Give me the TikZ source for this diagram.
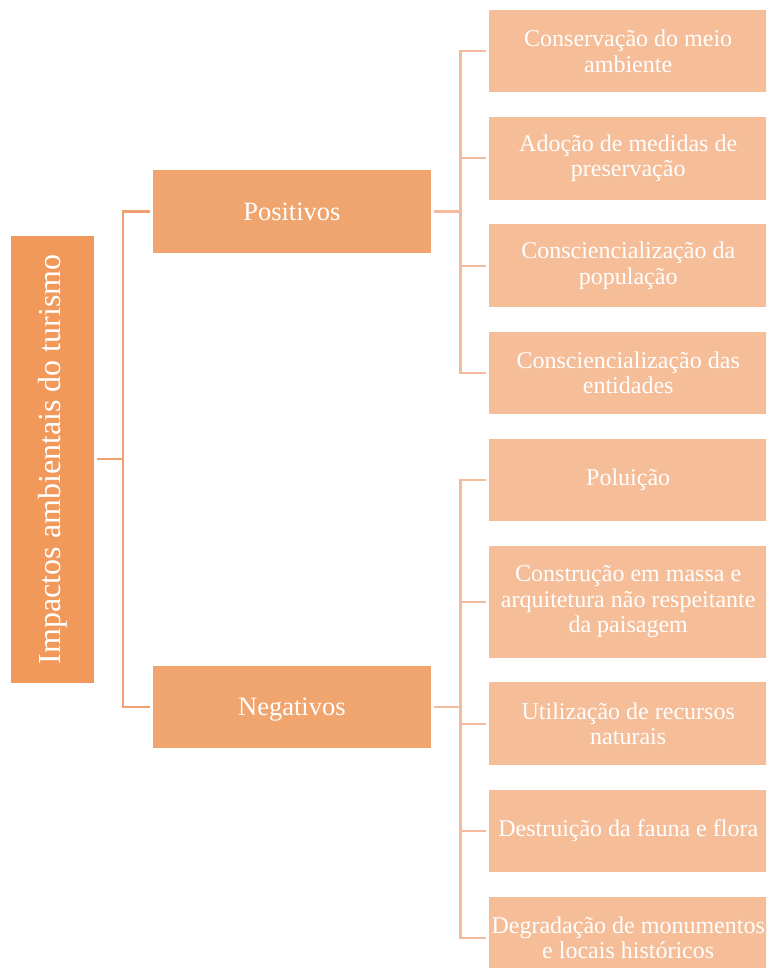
\documentclass[tikz,border=0pt]{standalone}
\usepackage{fontspec}
\setmainfont{Liberation Serif}
\usepackage{tikz}
\usetikzlibrary{positioning}
\definecolor{rootorange}{HTML}{F0995B}
\definecolor{catorange}{HTML}{F0A56F}
\definecolor{itempeach}{HTML}{F5BD98}
\definecolor{linkdark}{HTML}{F0A070}
\definecolor{linklight}{HTML}{F5B99C}

\begin{document}
\begin{tikzpicture}[x=1pt,y=-1pt,
    rootbox/.style={fill=rootorange,text=white,rotate=90,inner sep=0pt,minimum width=447pt,minimum height=82.7pt,font=\fontsize{32}{34}\selectfont},
    catbox/.style={fill=catorange,text=white,inner sep=0pt,minimum width=277.7pt,minimum height=82.4pt,text height=17.5pt,text depth=0pt,font=\fontsize{26.5}{28}\selectfont},
    itembox/.style={fill=itempeach,text=white,inner sep=0pt,minimum width=277.7pt,minimum height=82.5pt,align=center,font=\fontsize{24}{25.5}\selectfont},
    darklink/.style={draw=linkdark,line width=2.2pt},
    lightlink/.style={draw=linklight,line width=2.2pt}]
      \useasboundingbox (0,0) rectangle (766,968);
      \clip (0,0) rectangle (766,968);
      \node[rootbox](impactos) at (52.7,459.2) {Impactos ambientais do turismo};
      \node[catbox](positivos) at (291.9,211.5) {Positivos};
      \node[catbox](negativos) at (291.9,707.2) {Negativos};

      \node[itembox](conservacao) at (628.2,51.2) {Conservação do meio\\ambiente};
      \node[itembox,below=24.3pt of conservacao](adocao) {Adoção de medidas de\\preservação};
      \node[itembox,below=24.3pt of adocao](populacao) {Consciencialização da\\população};
      \node[itembox,below=24.3pt of populacao](entidades) {Consciencialização das\\entidades};
      \node[itembox,below=24.3pt of entidades](poluicao) {Poluição};
      \node[itembox,below=24.3pt of poluicao,minimum height=111.7pt](construcao) {Construção em massa e\\arquitetura não respeitante\\da paisagem};
      \node[itembox,below=24.3pt of construcao](utilizacao) {Utilização de recursos\\naturais};
      \node[itembox,below=24.3pt of utilizacao](destruicao) {Destruição da fauna e flora};
      \node[itembox,below=24.3pt of destruicao](degradacao) {Degradação de monumentos\\e locais históricos};

      \coordinate (hub) at (123.3,459.2);
      \coordinate (poshub) at (460.5,211.5);
      \coordinate (neghub) at (460.5,707.2);
      \draw[darklink] ([xshift=3pt]impactos.south) -- (hub);
      \draw[darklink] ([xshift=-3pt]positivos.west) -| (hub) |- ([xshift=-3pt]negativos.west);
      \draw[lightlink] ([xshift=3pt]positivos.east) -- (poshub);
      \draw[lightlink] ([xshift=3pt]negativos.east) -- (neghub);
      \foreach \leaf in {conservacao,adocao,populacao,entidades}
        \draw[lightlink] (poshub) |- ([xshift=-3pt]\leaf.west);
      \foreach \leaf in {poluicao,construcao,utilizacao,destruicao,degradacao}
        \draw[lightlink] (neghub) |- ([xshift=-3pt]\leaf.west);
    \end{tikzpicture}
\end{document}
